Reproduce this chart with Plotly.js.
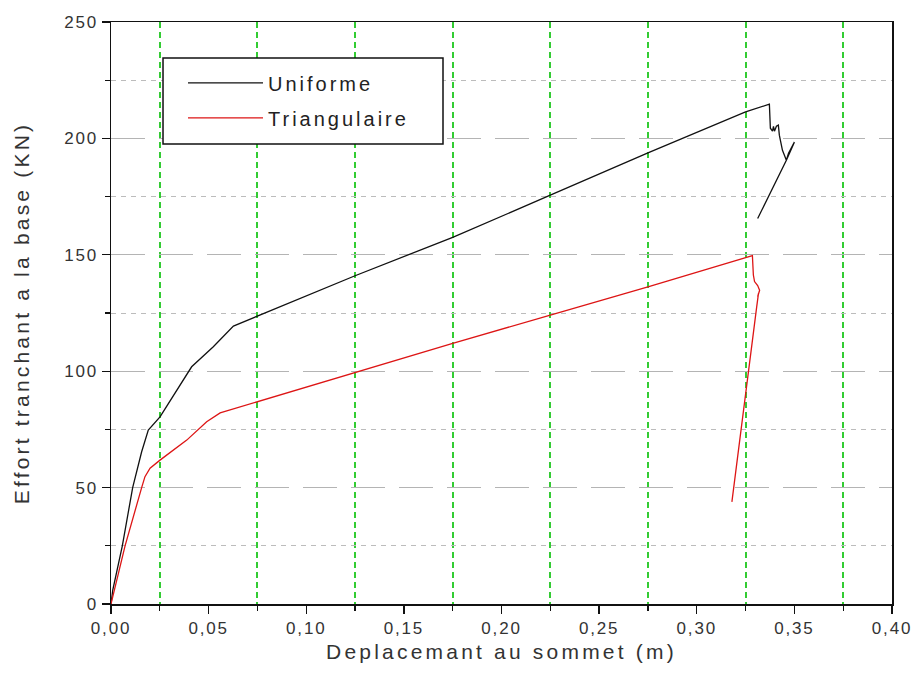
<!DOCTYPE html>
<html>
<head>
<meta charset="utf-8">
<script src="https://cdn.plot.ly/plotly-3.0.1.min.js"></script>
<style>
  html, body { margin: 0; padding: 0; background: #fff; }
  #chart { width: 917px; height: 688px; }
  .xtick text, .ytick text { letter-spacing: 1.8px; }
  text.xtitle, text.ytitle { letter-spacing: 3.2px; }
  text.legendtext { letter-spacing: 3px; }
</style>
</head>
<body>
<div id="chart"></div>
<script>
// Uniforme (black)
const uniformeX = [0, 0.0009, 0.0058, 0.0111, 0.0157, 0.0191, 0.0251, 0.0369, 0.0413, 0.0524, 0.0627,
  0.125, 0.175, 0.225, 0.275, 0.325, 0.3372, 0.3377, 0.3388, 0.3393, 0.3398, 0.3408, 0.3418, 0.3423,
  0.3434, 0.3439, 0.3449, 0.3459, 0.3470, 0.3500, 0.3459, 0.3312];
const uniformeY = [0, 6, 25, 50, 65.4, 74.7, 80.4, 96.2, 101.9, 110.5, 119.4,
  141.0, 157.5, 175.6, 193.8, 211.4, 214.7, 204.4, 203.1, 205.2, 203.1, 205.2, 205.7, 201.4,
  197.1, 194.9, 192.8, 190.6, 193.6, 198.4, 190.6, 165.6];

// Triangulaire (red)
const triangX = [0, 0.0072, 0.0157, 0.0174, 0.0200, 0.0251, 0.0388, 0.0490, 0.0559, 0.075, 0.125,
  0.175, 0.225, 0.275, 0.3285, 0.3290, 0.3296, 0.3312, 0.3322, 0.3312, 0.3316, 0.3307, 0.3180];
const triangY = [0, 25, 50, 54.7, 58.3, 61.8, 70.4, 78.3, 82.1, 86.9, 99.5,
  112.0, 124.1, 136.2, 149.6, 141.3, 138.5, 136.8, 134.8, 132.0, 133.3, 127.6, 43.9];

const seriesNames = ["Uniforme", "Triangulaire"];
const xTitle = "Deplacemant au sommet (m)";
const yTitle = "Effort tranchant a la base (KN)";

const font = "Arial, 'Liberation Sans', sans-serif";

const traces = [
  { x: uniformeX, y: uniformeY, name: seriesNames[0], legendgroup: "g1", type: "scatter", mode: "lines",
    line: { color: "#111111", width: 1.3 } },
  { x: triangX, y: triangY, name: seriesNames[1], legendgroup: "g2", type: "scatter", mode: "lines",
    line: { color: "#dd1515", width: 1.3 } }
];

const layout = {
  width: 917, height: 688,
  margin: { l: 111, r: 25, t: 22, b: 84 },
  paper_bgcolor: "#ffffff", plot_bgcolor: "#ffffff",
  separators: ", ",
  font: { family: font, color: "#333333" },
  showlegend: true,
  legend: {
    x: 0.0922, y: 0.929, xanchor: "left", yanchor: "top",
    bgcolor: "rgba(0,0,0,0)", borderwidth: 0,
    font: { family: font, size: 20, color: "#222222" },
    itemwidth: 75, tracegroupgap: 6
  },
  shapes: [
    { type: "rect", xref: "paper", yref: "paper", x0: 0.0666, x1: 0.4251, y0: 0.7904, y1: 0.9381,
      line: { color: "#111111", width: 1.5 }, fillcolor: "#ffffff", layer: "above" }
  ],
  xaxis: {
    range: [0, 0.4], dtick: 0.05, tick0: 0, tickformat: ".2f",
    showline: true, linecolor: "#111111", linewidth: 1.5, mirror: true,
    ticks: "outside", ticklen: 8, tickwidth: 1.3, tickcolor: "#111111",
    tickfont: { family: font, size: 17, color: "#333333" },
    showgrid: false, zeroline: false,
    minor: { dtick: 0.025, ticks: "outside", ticklen: 5, tickwidth: 1.2, tickcolor: "#111111",
      showgrid: true, gridcolor: "#33cc33", gridwidth: 2, griddash: "6px,4px" },
    title: { text: xTitle, font: { family: font, size: 21, color: "#333333" }, standoff: 7 }
  },
  yaxis: {
    range: [0, 250], dtick: 50, tick0: 0,
    showline: true, linecolor: "#111111", linewidth: 1.5, mirror: true,
    ticks: "outside", ticklen: 8, tickwidth: 1.3, tickcolor: "#111111",
    tickfont: { family: font, size: 17, color: "#333333" },
    showgrid: true, gridcolor: "#b4b4b4", gridwidth: 1.2, griddash: "34px,14px",
    zeroline: false,
    minor: { dtick: 25, ticks: "outside", ticklen: 5, tickwidth: 1.2, tickcolor: "#111111",
      showgrid: true, gridcolor: "#bcbcbc", gridwidth: 1, griddash: "5px,5px" },
    title: { text: yTitle, font: { family: font, size: 21, color: "#333333" }, standoff: 29 }
  }
};

Plotly.newPlot("chart", traces, layout, { staticPlot: true, displayModeBar: false });
</script>
</body>
</html>
